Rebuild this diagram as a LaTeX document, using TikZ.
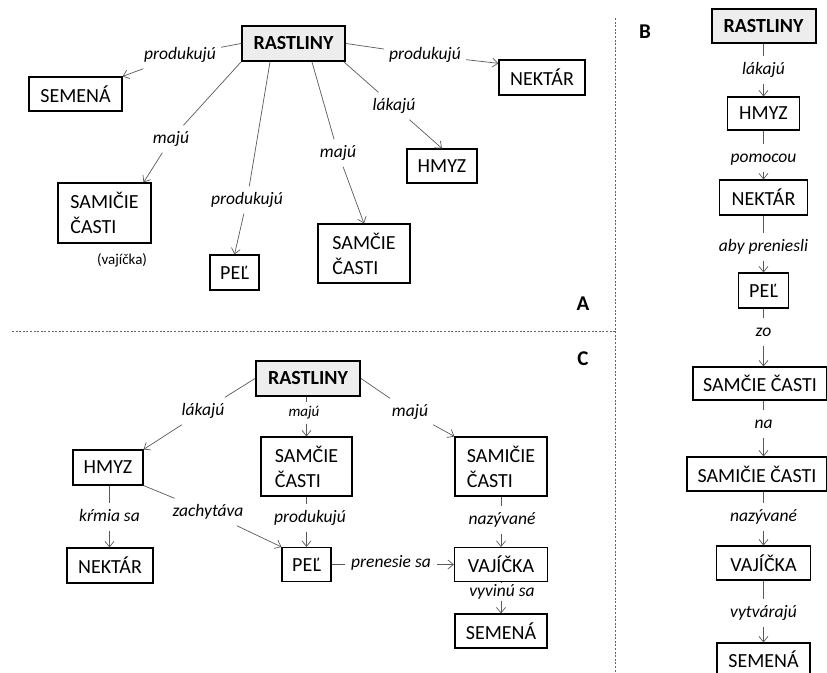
\documentclass[tikz,border=0pt]{standalone}
\usepackage{fontspec}
\setmainfont{Carlito}
\usetikzlibrary{arrows.meta,calc}
\begin{document}
\begin{tikzpicture}[x=1pt,y=-1pt,
  box/.style={draw=black, line width=1.1pt, inner sep=0pt, align=left, font=\fontsize{20}{25}\selectfont},
  root/.style={box, line width=2pt, fill=black!7, font=\bfseries\fontsize{20}{24}\selectfont},
  lab/.style={inner xsep=5pt, inner ysep=6pt, text height=11.5pt, text depth=3.5pt, font=\itshape\fontsize{17.5}{20}\selectfont},
  smalllab/.style={lab, inner ysep=4pt, text height=10pt, text depth=3pt, font=\itshape\fontsize{15}{18}\selectfont},
  con/.style={draw=black!65, line width=0.7pt},
  arr/.style={con, -{Straight Barb[length=5.5pt,width=9pt]}},
  divider/.style={draw=black!60, line width=0.8pt, dash pattern=on 2pt off 1.6pt},
  panel/.style={font=\bfseries\fontsize{21}{24}\selectfont}
]
\useasboundingbox (0,0) rectangle (827,672);

% dividers
\coordinate (vt) at (615,18);
\coordinate (vb) at (615,672);
\coordinate (hl) at (12,331);
\coordinate (hr) at (615,331);
\draw[divider] (vt) -- (vb);
\draw[divider] (hl) -- (hr);

% ---------------- Panel A ----------------
\node[panel] (pA) at (583,304) {A};
\node[root, minimum width=103pt, minimum height=35pt] (RA) at (293.5,43.5) {RASTLINY};
\node[box, minimum width=93pt, minimum height=34pt] (SemA) at (75.5,94) {SEMENÁ};
\node[box, minimum width=86pt, minimum height=35pt] (NekA) at (542,77.5) {NEKTÁR};
\node[box, minimum width=70pt, minimum height=34pt] (HmyzA) at (442,166) {HMYZ};
\node[box, minimum width=92pt, minimum height=59pt] (SamA) at (364,253.5) {SAMČIE\\ČASTI};
\node[box, minimum width=93pt, minimum height=60pt] (SamiA) at (104.5,213) {SAMIČIE\\ČASTI};
\node[font=\fontsize{15}{18}\selectfont] (vajA) at (122,260) {(vajíčka)};
\node[box, minimum width=49pt, minimum height=35pt] (PelA) at (234.5,272.5) {PEĽ};

\node[lab] (a1) at (180,55) {produkujú};
\node[lab] (a2) at (425,55) {produkujú};
\node[lab] (a3) at (171,139) {majú};
\node[lab] (a4) at (247,200) {produkujú};
\node[lab] (a5) at (338,153) {majú};
\node[lab] (a6) at (394,106) {lákajú};

\draw[con] (RA.west) -- (a1);
\draw[arr] (a1) -- (SemA.north east);
\draw[con] (RA.east) -- (a2);
\draw[arr] (a2) -- (NekA.162);
\draw[con] (RA.south west) -- (a3);
\draw[arr] (a3) -- ($(SamiA.north east)+(-8,0)$);
\draw[con] ($(RA.south)+(-23.5,0)$) -- (a4);
\draw[arr] (a4) -- (PelA.north);
\draw[con] ($(RA.south)+(18.5,0)$) -- (a5);
\draw[arr] (a5) -- (SamA.north);
\draw[con] ($(RA.south east)+(-2,0)$) -- (a6);
\draw[arr] (a6) -- (HmyzA.north);

% ---------------- Panel B ----------------
\node[panel] (pB) at (645,32) {B};
\coordinate (bx) at (763.5,0);
\node[root, minimum width=104pt, minimum height=34pt] (RB) at (763.5,26) {RASTLINY};
\node[box, minimum width=72pt, minimum height=33pt] (HmyzB) at (763.5,113.5) {HMYZ};
\node[box, minimum width=88pt, minimum height=35pt] (NekB) at (763.5,197.5) {NEKTÁR};
\node[box, minimum width=50pt, minimum height=35pt] (PelB) at (763.5,290.5) {PEĽ};
\node[box, minimum width=134pt, minimum height=33pt] (SamB) at (760,383.5) {SAMČIE ČASTI};
\node[box, minimum width=140pt, minimum height=34pt] (SamiB) at (757,474) {SAMIČIE ČASTI};
\node[box, minimum width=94pt, minimum height=34pt] (VajB) at (763.5,563) {VAJÍČKA};
\node[box, minimum width=93pt, minimum height=32pt] (SemB) at (763.5,659) {SEMENÁ};

\node[lab] (b1) at (763.5,70) {lákajú};
\node[lab] (b2) at (763.5,158) {pomocou};
\node[lab] (b3) at (763.5,247) {aby preniesli};
\node[lab] (b4) at (763.5,332) {zo};
\node[lab] (b5) at (763.5,424) {na};
\node[lab] (b6) at (763.5,517) {nazývané};
\node[lab] (b7) at (763.5,613) {vytvárajú};

\draw[con] (bx |- RB.south) -- (bx |- b1.north);
\draw[arr] (bx |- b1.south) -- (bx |- HmyzB.north);
\draw[con] (bx |- HmyzB.south) -- (bx |- b2.north);
\draw[arr] (bx |- b2.south) -- (bx |- NekB.north);
\draw[con] (bx |- NekB.south) -- (bx |- b3.north);
\draw[arr] (bx |- b3.south) -- (bx |- PelB.north);
\draw[con] (bx |- PelB.south) -- (bx |- b4.north);
\draw[arr] (bx |- b4.south) -- (bx |- SamB.north);
\draw[con] (bx |- SamB.south) -- (bx |- b5.north);
\draw[arr] (bx |- b5.south) -- (bx |- SamiB.north);
\draw[con] (bx |- SamiB.south) -- (bx |- b6.north);
\draw[arr] (bx |- b6.south) -- (bx |- VajB.north);
\draw[con] (bx |- VajB.south) -- (bx |- b7.north);
\draw[arr] (bx |- b7.south) -- (bx |- SemB.north);

% ---------------- Panel C ----------------
\node[panel] (pC) at (583,359) {C};
\node[root, minimum width=104pt, minimum height=35pt] (RC) at (308,378.5) {RASTLINY};
\node[box, minimum width=70pt, minimum height=35pt] (HmyzC) at (108,467.5) {HMYZ};
\node[box, minimum width=86pt, minimum height=35pt] (NekC) at (110,565.5) {NEKTÁR};
\node[box, minimum width=91pt, minimum height=59pt] (SamC) at (306.5,466.5) {SAMČIE\\ČASTI};
\node[box, minimum width=49pt, minimum height=34pt] (PelC) at (306.5,564.5) {PEĽ};
\node[box, minimum width=92pt, minimum height=59pt] (SamiC) at (501,466.5) {SAMIČIE\\ČASTI};
\node[box, minimum width=93pt, minimum height=34pt] (VajC) at (501,564.5) {VAJÍČKA};
\node[box, minimum width=92pt, minimum height=34pt] (SemC) at (501,631) {SEMENÁ};

\node[lab] (c1) at (203,411) {lákajú};
\node[smalllab] (c2) at (304,413) {majú};
\node[lab] (c3) at (410,412) {majú};
\node[lab] (c4) at (109.5,517) {kŕmia sa};
\node[lab] (c5) at (208,512) {zachytáva};
\node[lab] (c6) at (310,518) {produkujú};
\node[lab, inner xsep=6pt] (c7) at (391,563) {prenesie sa};
\node[lab] (c8) at (502,520) {nazývané};
\node[lab, inner ysep=1pt] (c9) at (502,592) {vyvinú sa};

\draw[con] (RC.west) -- (c1);
\draw[arr] (c1) -- (HmyzC.north east);
\draw[con] (SamC.north |- RC.south) -- (SamC.north |- c2.north);
\draw[arr] (SamC.north |- c2.south) -- (SamC.north);
\draw[con] (RC.east) -- (c3);
\draw[arr] (c3) -- (SamiC.north west);
\draw[con] ($(HmyzC.south)+(1.5,0)$) -- ($(HmyzC.south |- c4.north)+(1.5,0)$);
\draw[arr] ($(HmyzC.south |- c4.south)+(1.5,0)$) -- ($(NekC.north)+(-0.5,0)$);
\draw[con] (HmyzC.south east) -- (c5);
\draw[arr] (c5) -- (PelC.north west);
\draw[con] (SamC.south) -- (SamC.south |- c6.north);
\draw[arr] (SamC.south |- c6.south) -- (PelC.north);
\draw[con] (PelC.east) -- (PelC.east -| c7.west);
\draw[arr] (PelC.east -| c7.east) -- (VajC.west);
\draw[con] (SamiC.south) -- (SamiC.south |- c8.north);
\draw[arr] (SamiC.south |- c8.south) -- (VajC.north);
\draw[con] (VajC.south) -- (VajC.south |- c9.north);
\draw[arr] (VajC.south |- c9.south) -- (SemC.north);
\end{tikzpicture}
\end{document}
